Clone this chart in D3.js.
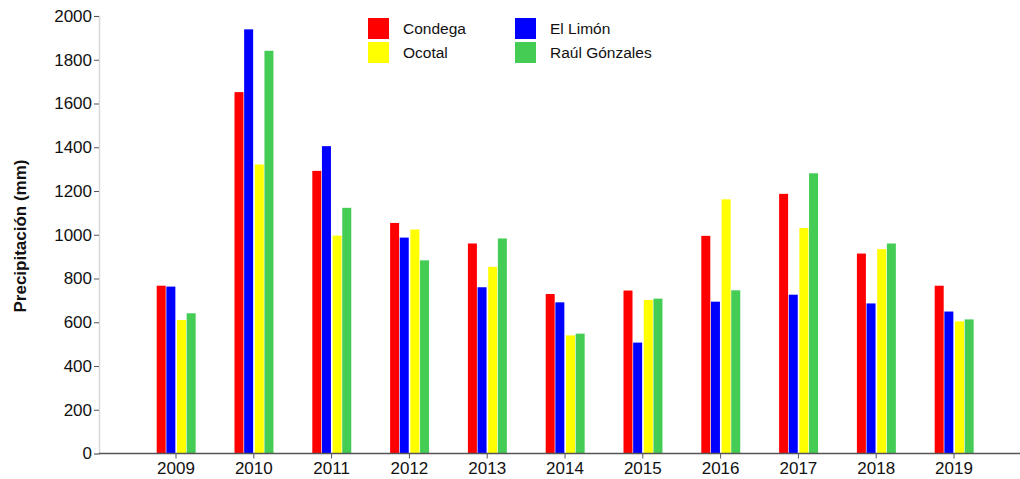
<!DOCTYPE html>
<html><head><meta charset="utf-8">
<script src="https://cdn.jsdelivr.net/npm/d3@7"></script>
<style>body{margin:0;background:#fff}svg{display:block;font-family:"Liberation Sans",Arial,sans-serif}</style>
</head><body><svg id="c" width="1020" height="479"></svg>
<script>
const years = ["2009","2010","2011","2012","2013","2014","2015","2016","2017","2018","2019"];
const series = ["Condega","El Limón","Ocotal","Raúl Gónzales"];
const colors = ["#ff0000","#0000ff","#ffff00","#44cc55"];
const condega = [767,1652,1292,1054,960,729,745,995,1187,914,767];
const elLimon = [763,1939,1405,987,760,691,507,694,726,686,649];
const ocotal  = [610,1321,996,1024,853,540,702,1162,1031,934,604];
const raul    = [641,1841,1123,883,983,548,708,746,1281,960,613];
const yTicks = [0,200,400,600,800,1000,1200,1400,1600,1800,2000];
const values = [condega, elLimon, ocotal, raul];

const svg = d3.select("#c");
const x0 = 99, xEnd = 1020, yBase = 453.5, yTop = 16;
const x = d3.scaleBand().domain(years).range([137.1, 992.9]).padding(0);
const y = d3.scaleLinear().domain([0,2000]).range([yBase, yTop]);
const sub = d3.scaleBand().domain(series).range([-19.3, 19.3]).padding(0);

// y axis
const ya = svg.append("g").attr("transform",`translate(${x0},0)`)
  .call(d3.axisLeft(y).tickValues(yTicks).tickFormat(d3.format("d")).tickSize(5).tickPadding(2));
ya.select(".domain").attr("stroke","#d8d8d8").attr("stroke-width",1.5);
ya.selectAll(".tick line").attr("stroke","#555");
ya.selectAll("text").attr("font-size",17).attr("fill","#111").attr("font-family","Liberation Sans, Arial, sans-serif");

// bars
const g = svg.append("g");
series.forEach((s,si)=>{
  g.selectAll(null).data(years).enter().append("rect")
    .attr("x", d=> x(d)+x.bandwidth()/2 + sub(s) + (si>=2?1:0))
    .attr("width", 9)
    .attr("y", (d,i)=> y(values[si][i]))
    .attr("height", (d,i)=> yBase - y(values[si][i]))
    .attr("fill", colors[si]);
});

// x axis
const xa = svg.append("g").attr("transform",`translate(0,${yBase})`)
  .call(d3.axisBottom(x).tickSize(5).tickPadding(3));
xa.select(".domain").remove();
xa.append("line").attr("x1",x0).attr("x2",xEnd).attr("stroke","#555").attr("stroke-width",1.3);
xa.selectAll(".tick line").attr("stroke","#555");
xa.selectAll("text").attr("font-size",17).attr("fill","#111").attr("font-family","Liberation Sans, Arial, sans-serif");

// y label
svg.append("text").attr("transform","translate(26,236) rotate(-90)")
  .attr("text-anchor","middle").attr("font-size",17).attr("font-weight","bold").attr("fill","#111")
  .text("Precipitación (mm)");

// legend
const legPos = [[368,18],[515,18],[368,42],[515,42]];
series.forEach((s,i)=>{
  const [lx,ly] = legPos[i];
  svg.append("rect").attr("x",lx).attr("y",ly).attr("width",21).attr("height",21).attr("fill",colors[i]);
  svg.append("text").attr("x",lx+35).attr("y",ly+16).attr("font-size",15.5).attr("fill","#111").text(s);
});
</script></body></html>
